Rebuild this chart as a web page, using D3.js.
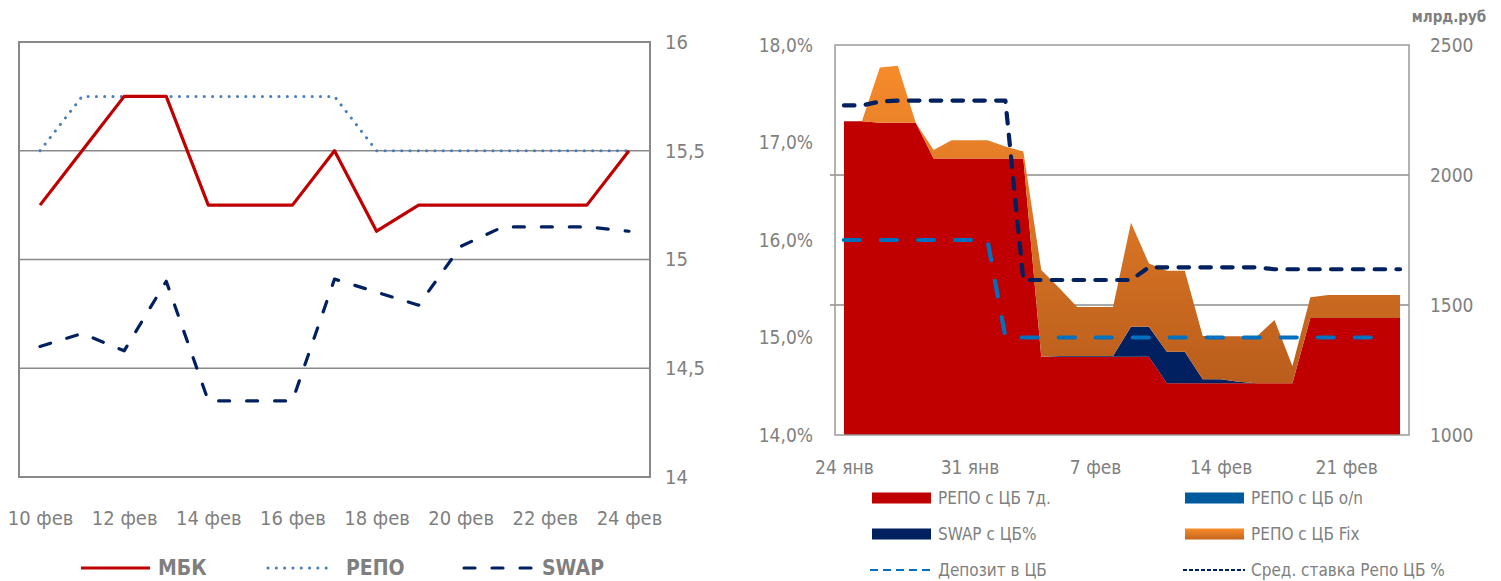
<!DOCTYPE html>
<html>
<head>
<meta charset="utf-8">
<script src="https://cdn.jsdelivr.net/npm/d3@7"></script>
<style>
  body { margin: 0; background: #fff; }
  svg text { font-family: "Liberation Sans Narrow", "Arial Narrow", "DejaVu Sans Condensed", sans-serif; fill: #7f7f7f; }
</style>
</head>
<body>
<svg id="chart" width="1501" height="581"></svg>
<script>
// ---------- left chart: rates, 10-24 фев ----------
const leftDays = ["10 фев","11 фев","12 фев","13 фев","14 фев","15 фев","16 фев","17 фев",
                  "18 фев","19 фев","20 фев","21 фев","22 фев","23 фев","24 фев"];
const leftTicks = ["10 фев","12 фев","14 фев","16 фев","18 фев","20 фев","22 фев","24 фев"];
const mbk  = [15.25, 15.5, 15.75, 15.75, 15.25, 15.25, 15.25, 15.5, 15.13, 15.25, 15.25, 15.25, 15.25, 15.25, 15.5];
const repo = [15.5, 15.75, 15.75, 15.75, 15.75, 15.75, 15.75, 15.75, 15.5, 15.5, 15.5, 15.5, 15.5, 15.5, 15.5];
const swap = [14.6, 14.66, 14.58, 14.9, 14.35, 14.35, 14.35, 14.91, 14.85, 14.79, 15.06, 15.15, 15.15, 15.15, 15.13];
const leftTickVals = [14, 14.5, 15, 15.5, 16];
const leftNames = ["МБК", "РЕПО", "SWAP"];

// ---------- right chart: CB operations, 24 янв - 24 фев ----------
const days = ["2015-01-24","2015-01-25","2015-01-26","2015-01-27","2015-01-28","2015-01-29","2015-01-30","2015-01-31",
              "2015-02-01","2015-02-02","2015-02-03","2015-02-04","2015-02-05","2015-02-06","2015-02-07","2015-02-08",
              "2015-02-09","2015-02-10","2015-02-11","2015-02-12","2015-02-13","2015-02-14","2015-02-15","2015-02-16",
              "2015-02-17","2015-02-18","2015-02-19","2015-02-20","2015-02-21","2015-02-22","2015-02-23","2015-02-24"];
const repo7d  = [2207, 2207, 2201, 2201, 2201, 2063, 2063, 2063, 2063, 2063, 2063, 1301, 1301, 1301, 1301, 1301,
                 1301, 1301, 1199, 1199, 1199, 1199, 1199, 1199, 1199, 1199, 1450, 1450, 1450, 1450, 1450, 1450];
const repoON  = [0, 0, 0, 0, 0, 0, 0, 0, 0, 0, 0, 0, 0, 0, 0, 0,
                 0, 0, 0, 0, 0, 0, 0, 0, 0, 0, 0, 0, 0, 0, 0, 0];
const swapCB  = [0, 0, 0, 0, 0, 0, 0, 0, 0, 0, 0, 0, 3, 3, 3, 3,
                 115, 115, 121, 121, 15, 15, 6, 0, 0, 0, 0, 0, 0, 0, 0, 0];
const repoFix = [0, 0, 212, 219, 0, 33, 71, 71, 71, 47, 27, 334, 261, 188, 188, 188,
                 400, 244, 312, 312, 167, 166, 175, 179, 243, 66, 80, 88, 88, 88, 88, 88];
const deposit = [16, 16, 16, 16, 16, 16, 16, 16, 16, 15, 15, 15, 15, 15, 15, 15,
                 15, 15, 15, 15, 15, 15, 15, 15, 15, 15, 15, 15, 15, 15, 15, null];
const avgRepo = [17.38, 17.38, 17.42, 17.43, 17.43, 17.43, 17.43, 17.43, 17.43, 17.43, 15.59, 15.59, 15.59, 15.59, 15.59, 15.59,
                 15.59, 15.72, 15.72, 15.72, 15.72, 15.72, 15.72, 15.72, 15.70, 15.70, 15.70, 15.70, 15.70, 15.70, 15.70, 15.70];
const rightTickDates = ["2015-01-24","2015-01-31","2015-02-07","2015-02-14","2015-02-21"];
const rightTickLabels = ["24 янв","31 янв","7 фев","14 фев","21 фев"];
const pctTicks = [14, 15, 16, 17, 18];
const volTicks = [1000, 1500, 2000, 2500];
const areaNames = ["РЕПО с ЦБ 7д.", "РЕПО с ЦБ o/n", "SWAP с ЦБ%", "РЕПО с ЦБ Fix"];
const lineNames = ["Депозит в ЦБ", "Сред. ставка Репо ЦБ %"];

const svg = d3.select("#chart");
const grey = "#898989";

// ======================= LEFT CHART =======================
const L = { x0: 19, x1: 650, y0: 42, y1: 477 };
const xL = d3.scalePoint().domain(leftDays).range([L.x0, L.x1]).padding(0.5);
const yL = d3.scaleLinear().domain([14, 16]).range([L.y1, L.y0]);

const gL = svg.append("g");

gL.selectAll(".gridL")
  .data([14.5, 15, 15.5])
  .enter().append("line")
    .attr("x1", L.x0).attr("x2", L.x1)
    .attr("y1", d => yL(d)).attr("y2", d => yL(d))
    .attr("stroke", grey).attr("stroke-width", 1.5);

gL.append("rect")
  .attr("x", L.x0).attr("y", L.y0)
  .attr("width", L.x1 - L.x0).attr("height", L.y1 - L.y0)
  .attr("fill", "none").attr("stroke", grey).attr("stroke-width", 2);

const leftStyles = {
  "МБК":  { color: "#C00000", width: 3.2, dash: null, cap: "butt" },
  "РЕПО": { color: "#4A7EBB", width: 3, dash: "0.1,8.2", cap: "round" },
  "SWAP": { color: "#002060", width: 3.2, dash: "11,17", cap: "round" }
};
const leftSeries = { "МБК": mbk, "РЕПО": repo, "SWAP": swap };

const lineL = d3.line()
  .x((d, i) => xL(leftDays[i]))
  .y(d => yL(d));

["РЕПО", "SWAP", "МБК"].forEach(name => {
  const s = leftStyles[name];
  gL.append("path")
    .datum(leftSeries[name])
    .attr("d", lineL)
    .attr("fill", "none")
    .attr("stroke", s.color)
    .attr("stroke-width", s.width)
    .attr("stroke-linecap", s.cap)
    .attr("stroke-linejoin", "round")
    .attr("stroke-dasharray", s.dash);
});

// axes
const axisYL = gL.append("g")
  .attr("transform", `translate(${L.x1},0)`)
  .call(d3.axisRight(yL).tickValues(leftTickVals)
    .tickFormat(d => String(d).replace(".", ","))
    .tickSize(0).tickPadding(15));
axisYL.select(".domain").remove();
axisYL.selectAll("text").style("font-size", "20px").attr("fill", "#7f7f7f");

const axisXL = gL.append("g")
  .attr("transform", `translate(0,${L.y1})`)
  .call(d3.axisBottom(xL).tickValues(leftTicks).tickSize(0).tickPadding(34));
axisXL.select(".domain").remove();
axisXL.selectAll("text").style("font-size", "20px").attr("fill", "#7f7f7f");

// legend
const legL = [
  { x: 81, tx: 158 },
  { x: 268, tx: 346 },
  { x: 464, tx: 542 }
];
leftNames.forEach((name, i) => {
  const s = leftStyles[name];
  const p = legL[i];
  const len = name === "МБК" ? 69 : (name === "РЕПО" ? 62 : 68);
  gL.append("line")
    .attr("x1", p.x).attr("x2", p.x + len)
    .attr("y1", 568).attr("y2", 568)
    .attr("stroke", s.color)
    .attr("stroke-width", s.width)
    .attr("stroke-linecap", s.cap)
    .attr("stroke-dasharray", s.dash);
  gL.append("text")
    .attr("x", p.tx).attr("y", 568).attr("dy", "0.35em")
    .style("font-size", "21px").style("font-weight", "bold")
    .text(name);
});

// ======================= RIGHT CHART =======================
const R = { x0: 835, x1: 1409, y0: 45, y1: 435 };
const parse = d3.utcParse("%Y-%m-%d");
const dates = days.map(parse);
const half = 12 * 3600 * 1000;
const xR = d3.scaleUtc()
  .domain([new Date(+dates[0] - half), new Date(+dates[dates.length - 1] + half)])
  .range([R.x0, R.x1]);
const yVol = d3.scaleLinear().domain([1000, 2500]).range([R.y1, R.y0]);
const yPct = d3.scaleLinear().domain([14, 18]).range([R.y1, R.y0]);

const defs = svg.append("defs");
defs.append("clipPath").attr("id", "plotR")
  .append("rect").attr("x", R.x0).attr("y", R.y0)
  .attr("width", R.x1 - R.x0).attr("height", R.y1 - R.y0);
const grad = defs.append("linearGradient").attr("id", "orangeGrad")
  .attr("gradientUnits", "userSpaceOnUse")
  .attr("x1", 0).attr("y1", R.y0).attr("x2", 0).attr("y2", R.y1);
grad.append("stop").attr("offset", "0%").attr("stop-color", "#FA8E2C");
grad.append("stop").attr("offset", "100%").attr("stop-color", "#B0561A");
const gradL = defs.append("linearGradient").attr("id", "orangeGradLeg")
  .attr("x1", 0).attr("y1", 0).attr("x2", 0).attr("y2", 1);
gradL.append("stop").attr("offset", "0%").attr("stop-color", "#F98C2A");
gradL.append("stop").attr("offset", "100%").attr("stop-color", "#C4661E");

const gR = svg.append("g");

// gridlines (right axis)
gR.selectAll(".gridR")
  .data([1500, 2000])
  .enter().append("line")
    .attr("x1", R.x0 - 5).attr("x2", R.x1)
    .attr("y1", d => yVol(d)).attr("y2", d => yVol(d))
    .attr("stroke", "#8c8c8c").attr("stroke-width", 1.3);

// stacked areas
const table = days.map((d, i) => ({
  date: dates[i],
  [areaNames[0]]: repo7d[i],
  [areaNames[1]]: repoON[i],
  [areaNames[2]]: swapCB[i],
  [areaNames[3]]: repoFix[i]
}));
const stack = d3.stack().keys(areaNames);
const layers = stack(table);
const areaColors = {
  "РЕПО с ЦБ 7д.": "#C00000",
  "РЕПО с ЦБ o/n": "#005A9E",
  "SWAP с ЦБ%": "#002060",
  "РЕПО с ЦБ Fix": "url(#orangeGrad)"
};
const area = d3.area()
  .x(d => xR(d.data.date))
  .y0(d => yVol(d[0]))
  .y1(d => yVol(d[1]));

gR.append("g").attr("clip-path", "url(#plotR)")
  .selectAll("path")
  .data(layers)
  .enter().append("path")
    .attr("d", area)
    .attr("fill", d => areaColors[d.key]);

// frame
gR.append("rect")
  .attr("x", R.x0).attr("y", R.y0)
  .attr("width", R.x1 - R.x0).attr("height", R.y1 - R.y0)
  .attr("fill", "none").attr("stroke", "#9a9a9a").attr("stroke-width", 1.5);

// rate lines
const lineStyles = {
  "Депозит в ЦБ": { color: "#0070C0", width: 4.2, dash: "16,21" },
  "Сред. ставка Репо ЦБ %": { color: "#002060", width: 4.2, dash: "10.5,11.3" }
};
const lineSeries = { "Депозит в ЦБ": deposit, "Сред. ставка Репо ЦБ %": avgRepo };
const lineR = d3.line()
  .defined(d => d != null)
  .x((d, i) => xR(dates[i]))
  .y(d => yPct(d));
lineNames.forEach(name => {
  const s = lineStyles[name];
  gR.append("path")
    .datum(lineSeries[name])
    .attr("d", lineR)
    .attr("fill", "none")
    .attr("stroke", s.color)
    .attr("stroke-width", s.width)
    .attr("stroke-linecap", "round")
    .attr("stroke-linejoin", "round")
    .attr("stroke-dasharray", s.dash);
});

// axes
const axPct = gR.append("g")
  .attr("transform", `translate(${R.x0},0)`)
  .call(d3.axisLeft(yPct).tickValues(pctTicks)
    .tickFormat(d => d3.format(".1f")(d).replace(".", ",") + "%")
    .tickSize(0).tickPadding(22));
axPct.select(".domain").remove();
axPct.selectAll("text").style("font-size", "19px").attr("fill", "#7f7f7f");

const axVol = gR.append("g")
  .attr("transform", `translate(${R.x1},0)`)
  .call(d3.axisRight(yVol).tickValues(volTicks).tickFormat(d3.format("d"))
    .tickSize(0).tickPadding(21));
axVol.select(".domain").remove();
axVol.selectAll("text").style("font-size", "19px").attr("fill", "#7f7f7f");

const axX = gR.append("g")
  .attr("transform", `translate(0,${R.y1})`)
  .call(d3.axisBottom(xR).tickValues(rightTickDates.map(parse))
    .tickFormat((d, i) => rightTickLabels[i])
    .tickSize(0).tickPadding(26));
axX.select(".domain").remove();
axX.selectAll("text").style("font-size", "19px").attr("fill", "#7f7f7f");

gR.append("text")
  .attr("x", 1449).attr("y", 17).attr("dy", "0.35em")
  .attr("text-anchor", "middle")
  .style("font-size", "15px").style("font-weight", "bold")
  .text("млрд.руб");

// legend
const legCols = [872, 1185];
const legRows = [498, 534, 570];
const legItems = [
  { name: areaNames[0], type: "area" }, { name: areaNames[1], type: "area" },
  { name: areaNames[2], type: "area" }, { name: areaNames[3], type: "area" },
  { name: lineNames[0], type: "line" }, { name: lineNames[1], type: "line" }
];
const legLineDash = { "Депозит в ЦБ": "8,5", "Сред. ставка Репо ЦБ %": "4,2" };
legItems.forEach((it, k) => {
  const cx = legCols[k % 2];
  const cy = legRows[Math.floor(k / 2)];
  if (it.type === "area") {
    gR.append("rect")
      .attr("x", cx).attr("y", cy - 5.5)
      .attr("width", 59).attr("height", 11)
      .attr("fill", it.name === "РЕПО с ЦБ Fix" ? "url(#orangeGradLeg)" : areaColors[it.name]);
  } else {
    gR.append("line")
      .attr("x1", cx - 2).attr("x2", cx + 60)
      .attr("y1", cy).attr("y2", cy)
      .attr("stroke", lineStyles[it.name].color)
      .attr("stroke-width", 2)
      .attr("stroke-dasharray", legLineDash[it.name]);
  }
  gR.append("text")
    .attr("x", cx + 66).attr("y", cy).attr("dy", "0.35em")
    .style("font-size", "17px")
    .text(it.name);
});
</script>
</body>
</html>
